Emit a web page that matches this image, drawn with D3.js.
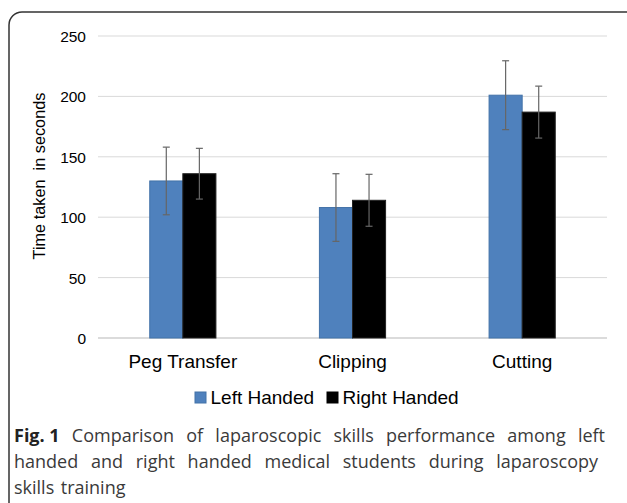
<!DOCTYPE html>
<head>
  <meta charset="utf-8">
  <style>
    body { margin: 0; background: #fff; }
    svg text { font-family: "Liberation Sans", Arial, sans-serif; fill: #000; }
    svg .caption text { font-family: "Open Sans", sans-serif; fill: #3a3a3a; }
  </style>
</head>
<body>
  <svg width=627 height=503 id="chart"></svg>
  <script src="https://d3js.org/d3.v7.min.js"></script>
  <script>
    // values
    let tasks = ["Peg Transfer", "Clipping", "Cutting"],
        groups = ["Left Handed", "Right Handed"],
        leftMean = [130, 108, 201],
        leftSd = [28, 28, 28.5],
        rightMean = [136, 114, 187],
        rightSd = [21, 21.5, 21.5],
        yTicks = [0, 50, 100, 150, 200, 250],
        colors = ["#4f81bd", "#000000"],
        captionLines = [
          ["Fig. 1", "Comparison of laparoscopic skills performance among left"],
          ["", "handed and right handed medical students during laparoscopy"],
          ["", "skills training"]
        ];

    let svg = d3.select("#chart");

    // frame round the figure
    svg.append("rect")
      .attr("x", 9).attr("y", 12)
      .attr("width", 700).attr("height", 600)
      .attr("rx", 13)
      .style("fill", "none")
      .style("stroke", "#333")
      .style("stroke-width", 1.5);

    let x = d3.scaleBand().domain(tasks).range([98, 607]),
        bw = x.bandwidth(),
        x1 = d3.scaleBand().domain(groups).range([bw * 0.305, bw * 0.695]),
        y = d3.scaleLinear().domain([0, 250]).range([338, 36]),
        c = d3.scaleOrdinal().domain(groups).range(colors);

    let data = tasks.map((t, i) => ({
      task: t,
      vals: [
        {g: groups[0], m: leftMean[i], sd: leftSd[i]},
        {g: groups[1], m: rightMean[i], sd: rightSd[i]}
      ]
    }));

    // grid
    svg.append("g").selectAll("line")
      .data(yTicks)
      .enter().append("line")
      .attr("x1", 98).attr("x2", 607)
      .attr("y1", d => y(d)).attr("y2", d => y(d))
      .style("stroke", d => d == 0 ? "#cfcfcf" : "#d9d9d9")
      .style("stroke-width", d => d == 0 ? 1.6 : 1);

    let yAxis = svg.append("g")
      .attr("transform", "translate(86,0)")
      .call(d3.axisLeft(y).tickValues(yTicks).tickSize(0).tickPadding(0));
    yAxis.select(".domain").remove();
    yAxis.selectAll("text")
      .style("font-family", "Liberation Sans, Arial, sans-serif")
      .style("font-size", "15.5px")
      .attr("dy", "0.36em");

    svg.append("text")
      .attr("transform", "translate(45,176) rotate(-90)")
      .style("text-anchor", "middle")
      .style("font-size", "16.3px")
      .style("white-space", "pre")
      .text("Time taken  in seconds");

    // bars
    let grp = svg.append("g").selectAll(".task")
      .data(data)
      .enter().append("g")
      .attr("class", "task")
      .attr("transform", d => "translate(" + x(d.task) + ",0)");

    grp.selectAll("rect")
      .data(d => d.vals)
      .enter().append("rect")
      .attr("x", d => x1(d.g))
      .attr("width", x1.bandwidth())
      .attr("y", d => y(d.m))
      .attr("height", d => y(0) - y(d.m))
      .style("fill", d => c(d.g))
      .style("stroke", (d, i) => i == 0 ? "#4372a8" : "#222")
      .style("stroke-width", 1);

    // error bars
    let eb = grp.selectAll(".err")
      .data(d => d.vals)
      .enter().append("g")
      .attr("class", "err")
      .attr("transform", d => "translate(" + (x1(d.g) + x1.bandwidth() / 2) + ",0)")
      .style("stroke", "#666")
      .style("stroke-width", 1.2);
    eb.append("line")
      .attr("y1", d => y(d.m - d.sd)).attr("y2", d => y(d.m + d.sd));
    eb.append("line")
      .attr("x1", -3.5).attr("x2", 3.5)
      .attr("y1", d => y(d.m + d.sd)).attr("y2", d => y(d.m + d.sd));
    eb.append("line")
      .attr("x1", -3.5).attr("x2", 3.5)
      .attr("y1", d => y(d.m - d.sd)).attr("y2", d => y(d.m - d.sd));

    // category labels
    svg.append("g").selectAll("text")
      .data(tasks)
      .enter().append("text")
      .attr("x", d => x(d) + bw / 2)
      .attr("y", 368)
      .style("text-anchor", "middle")
      .style("font-size", "19px")
      .text(d => d);

    // legend
    let leg = svg.append("g").attr("transform", "translate(195,392)");
    let legX = [0, 132];
    groups.forEach((g, i) => {
      leg.append("rect")
        .attr("x", legX[i]).attr("y", 0)
        .attr("width", 11).attr("height", 11)
        .style("fill", colors[i])
        .style("stroke", i == 0 ? "#4372a8" : "#000");
      leg.append("text")
        .attr("x", legX[i] + 15.5).attr("y", 11.5)
        .style("font-size", "19px")
        .text(g);
    });

    // caption, lines spread to the width like the printed text
    let cap = svg.append("g").attr("class", "caption");
    let lineY = [442, 468, 494],
        lineW = [591, 584, 0];
    captionLines.forEach((ln, i) => {
      let words = [];
      if (ln[0]) words.push({t: ln[0], b: true});
      ln[1].split(" ").forEach(w => words.push({t: w, b: false}));
      let nodes = words.map(w => cap.append("text")
        .attr("y", lineY[i])
        .style("font-size", "18px")
        .style("font-weight", w.b ? "700" : "400")
        .style("fill", w.b ? "#222" : null)
        .style("white-space", "pre")
        .text(w.t));
      let widths = nodes.map(n => n.node().getComputedTextLength()),
          total = d3.sum(widths),
          gap = lineW[i] ? (lineW[i] - total) / (words.length - 1) : 6.5,
          cx = 14;
      nodes.forEach((n, k) => {
        n.attr("x", cx);
        cx += widths[k] + gap;
      });
    });
  </script>
</body>
